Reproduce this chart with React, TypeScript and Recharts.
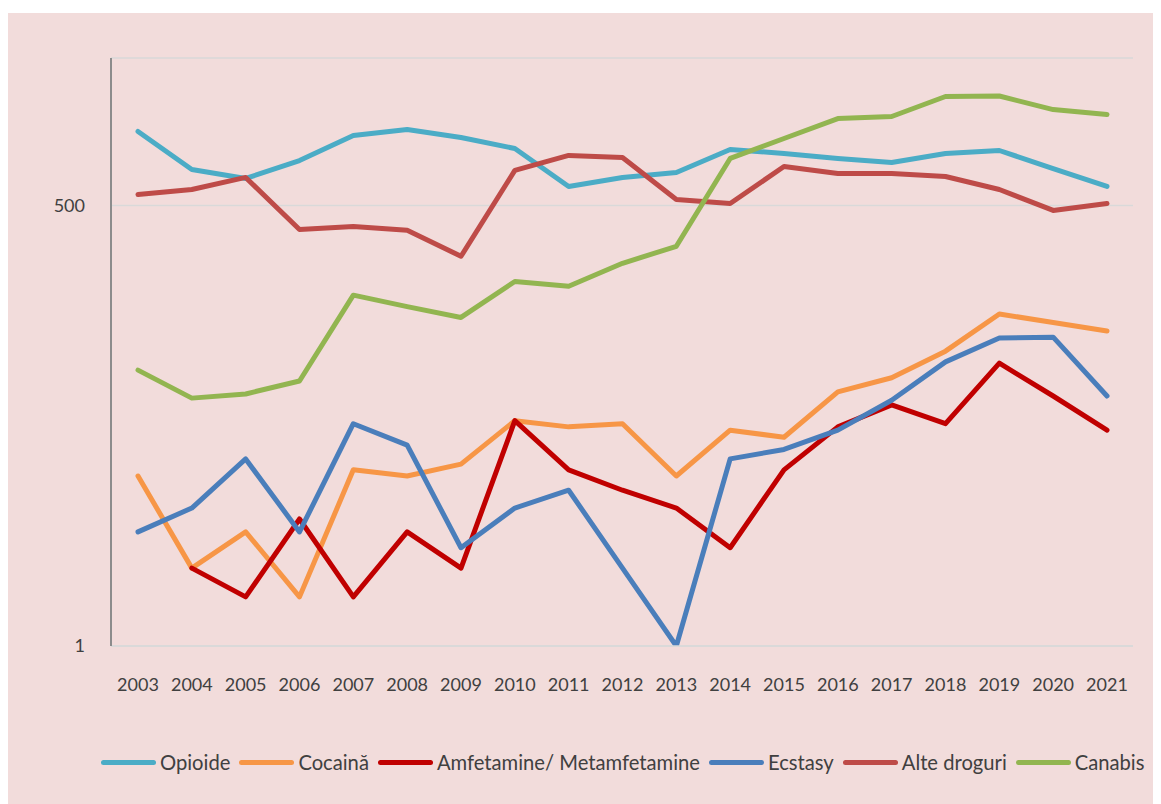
import { LineChart, Line, XAxis, YAxis, CartesianGrid } from 'recharts'

const years = ['2003', '2004', '2005', '2006', '2007', '2008', '2009', '2010', '2011', '2012', '2013', '2014', '2015', '2016', '2017', '2018', '2019', '2020', '2021']

const opioide = [1419, 830, 731, 942, 1341, 1459, 1303, 1116, 653, 742, 796, 1101, 1041, 970, 916, 1041, 1085, 841, 653]
const cocaina = [11, 3, 5, 2, 12, 11, 13, 24, 22, 23, 11, 21, 19, 36, 44, 64, 108, 96, 85]
const amfetamine = [null, 3, 2, 6, 2, 5, 3, 24, 12, 9, 7, 4, 12, 22, 30, 23, 54, 34, 21]
const ecstasy = [5, 7, 14, 5, 23, 17, 4, 7, 9, 3, 1, 14, 16, 21, 32, 55, 77, 78, 34]
const alteDroguri = [584, 626, 742, 356, 372, 352, 244, 819, 1012, 984, 544, 514, 866, 785, 785, 752, 626, 466, 514]
const canabis = [49, 33, 35, 42, 141, 120, 103, 171, 160, 221, 281, 970, 1285, 1703, 1753, 2324, 2340, 1933, 1802]

const yTicks = [1, 500]

const series = [
  { key: 'opioide', name: 'Opioide', color: '#4BACC6' },
  { key: 'cocaina', name: 'Cocaină', color: '#F79646' },
  { key: 'amfetamine', name: 'Amfetamine/ Metamfetamine', color: '#C00000' },
  { key: 'ecstasy', name: 'Ecstasy', color: '#4A7EBB' },
  { key: 'alte', name: 'Alte droguri', color: '#BE4B48' },
  { key: 'canabis', name: 'Canabis', color: '#92B550' },
]

const data = years.map((year, i) => ({
  year,
  opioide: opioide[i],
  cocaina: cocaina[i],
  amfetamine: amfetamine[i],
  ecstasy: ecstasy[i],
  alte: alteDroguri[i],
  canabis: canabis[i],
}))

const font = 'Lato, "Open Sans", sans-serif'

export default function App() {
  return (
    <div
      style={{
        marginTop: 5,
        width: 1153,
        height: 791,
        background: '#F2DCDB',
        position: 'relative',
        fontFamily: font,
      }}
    >
      <LineChart width={1153} height={791} data={data} margin={{ top: 45, right: 28, left: 0, bottom: 0 }}>
        <CartesianGrid vertical={false} stroke="#D9D9D9" strokeWidth={1.5} />
        <XAxis
          dataKey="year"
          height={158}
          padding={{ left: 27, right: 26 }}
          tickLine={false}
          tickSize={0}
          tickMargin={32}
          axisLine={{ stroke: '#D9D9D9', strokeWidth: 1.5 }}
          tick={{ fill: '#404040', fontSize: 18, fontFamily: font }}
          interval={0}
        />
        <YAxis
          width={103}
          scale="log"
          domain={[1, 4000]}
          allowDataOverflow
          ticks={yTicks}
          tickLine={false}
          tickSize={0}
          tickMargin={26}
          axisLine={{ stroke: '#8C8C8C', strokeWidth: 2 }}
          tick={{ fill: '#404040', fontSize: 18, fontFamily: font }}
        />
        {series.map((s) => (
          <Line
            key={s.key}
            type="linear"
            dataKey={s.key}
            name={s.name}
            stroke={s.color}
            strokeWidth={5}
            strokeLinejoin="round"
            strokeLinecap="round"
            dot={false}
            activeDot={false}
            isAnimationActive={false}
          />
        ))}
      </LineChart>
      {/* legend drawn outside the chart so it does not shrink the plot */}
      <div
        style={{
          position: 'absolute',
          top: 736,
          left: 93,
          display: 'flex',
          alignItems: 'center',
          height: 26,
          fontSize: 20.2,
          color: '#404040',
          whiteSpace: 'nowrap',
        }}
      >
        {series.map((s) => (
          <div key={s.key} style={{ display: 'flex', alignItems: 'center', marginRight: 9 }}>
            <div style={{ width: 55, height: 5, borderRadius: 3, background: s.color, marginRight: 4 }} />
            <span>{s.name}</span>
          </div>
        ))}
      </div>
    </div>
  )
}
